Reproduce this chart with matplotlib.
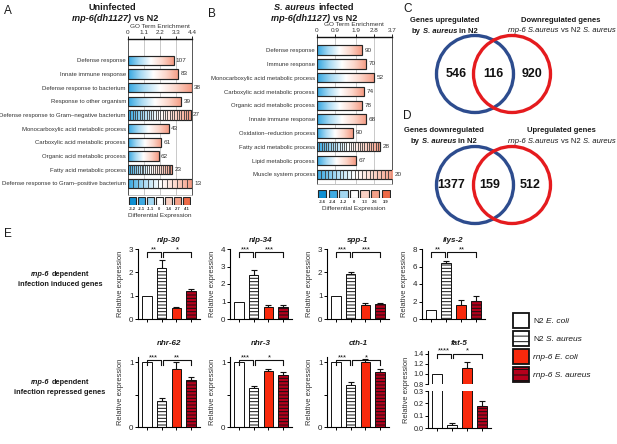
import numpy as np
import matplotlib
matplotlib.use('Agg')
import matplotlib.pyplot as plt
from matplotlib.colors import LinearSegmentedColormap
from matplotlib.patches import Rectangle, Circle

plt.rcParams['font.family'] = ['Liberation Sans', 'DejaVu Sans']
plt.rcParams['hatch.linewidth'] = 0.7
plt.rcParams['axes.unicode_minus'] = False

W, H = 617, 444
fig = plt.figure(figsize=(W / 100, H / 100), dpi=100)
fig.patch.set_facecolor('white')

# ---------------- data ----------------
a_terms = ['Defense response', 'Innate immune response', 'Defense response to bacterium',
           'Response to other organism', 'Defense response to Gram–negative bacterium',
           'Monocarboxylic acid metabolic process', 'Carboxylic acid metabolic process',
           'Organic acid metabolic process', 'Fatty acid metabolic process',
           'Defense response to Gram–positive bacterium']
a_enrich = [3.14, 3.47, 4.37, 3.67, 4.30, 2.79, 2.28, 2.12, 3.05, 4.40]
a_counts = [107, 83, 38, 39, 27, 43, 61, 62, 23, 13]
a_cells = [False, False, False, False, True, False, False, False, True, True]
a_ticks = [0, 1.1, 2.2, 3.3, 4.4]
a_de_labels = ['-3.2', '-2.1', '-1.1', '0', '1.4', '2.7', '4.1']

b_terms = ['Defense response', 'Immune response', 'Monocarboxylic acid metabolic process',
           'Carboxylic acid metabolic process', 'Organic acid metabolic process',
           'Innate immune response', 'Oxidation–reduction process',
           'Fatty acid metabolic process', 'Lipid metabolic process', 'Muscle system process']
b_enrich = [2.22, 2.42, 2.83, 2.30, 2.24, 2.42, 1.76, 3.12, 1.92, 3.70]
b_counts = [90, 70, 52, 74, 78, 68, 90, 28, 67, 20]
b_cells = [False, False, False, False, False, False, False, True, False, True]
b_ticks = [0, 0.9, 1.9, 2.8, 3.7]
b_de_labels = ['-3.6', '-2.4', '-1.2', '0', '1.3', '2.6', '3.9']

de_colors = ['#0e8fd2', '#3eaae2', '#a3d7f1', '#ffffff', '#f9d0c3', '#f4a088', '#ee6a47']

venn_c = [546, 116, 920]
venn_d = [1377, 159, 512]

groups = ['N2 E. coli', 'N2 S. aureus', 'rnp-6 E. coli', 'rnp-6 S. aureus']

nlp30 = [1.0, 2.2, 0.47, 1.18]
nlp30_err = [0, 0.32, 0.03, 0.12]
nlp34 = [1.0, 2.5, 0.7, 0.7]
nlp34_err = [0, 0.3, 0.12, 0.08]
spp1 = [1.0, 1.92, 0.62, 0.65]
spp1_err = [0, 0.08, 0.08, 0.05]
ilys2 = [1.0, 6.4, 1.6, 2.1]
ilys2_err = [0, 0.2, 0.55, 0.5]
nhr62 = [1.0, 0.4, 0.9, 0.73]
nhr62_err = [0, 0.05, 0.1, 0.04]
nhr3 = [1.0, 0.6, 0.86, 0.8]
nhr3_err = [0, 0.04, 0.03, 0.05]
cth1 = [1.0, 0.65, 1.0, 0.85]
cth1_err = [0, 0.04, 0.05, 0.04]
fat5 = [1.0, 0.025, 1.12, 0.175]
fat5_err = [0, 0.015, 0.12, 0.04]

stars_nlp30 = ['**', '*']
stars_nlp34 = ['***', '***']
stars_spp1 = ['***', '***']
stars_ilys2 = ['**', '**']
stars_nhr62 = ['***', '**']
stars_nhr3 = ['***', '*']
stars_cth1 = ['***', '*']
stars_fat5 = ['****', '*']

# ---------------- helpers ----------------
TXT = '#1a1a1a'


def px_axes(x0, y0, x1, y1, **kw):
    return fig.add_axes([x0 / W, 1 - y1 / H, (x1 - x0) / W, (y1 - y0) / H], **kw)


def rich(x, y, pieces, size, ha='center', color=TXT):
    """Draw mixed-style text; y is the vertical centre of capitals in pixels."""
    r = fig.canvas.get_renderer()
    em = size * 100 / 72
    yb = y + 0.36 * em
    items, total = [], 0
    for s, kw in pieces:
        lead = len(s) - len(s.lstrip(' '))
        trail = len(s) - len(s.rstrip(' '))
        t = fig.text(0, 0, s.strip(' '), fontsize=size, va='baseline', ha='left', color=color, **kw)
        w = t.get_window_extent(r).width
        l, tr = lead * 0.278 * em, trail * 0.278 * em
        items.append((t, l, w, tr))
        total += l + w + tr
    cx = x - total / 2 if ha == 'center' else x
    for t, l, w, tr in items:
        cx += l
        t.set_position((cx / W, 1 - yb / H))
        cx += w + tr


def ftext(x, y, s, size, **kw):
    kw.setdefault('color', TXT)
    fig.text(x / W, 1 - y / H, s, fontsize=size, **kw)


BI = dict(fontweight='bold', fontstyle='italic')
B = dict(fontweight='bold')
I = dict(fontstyle='italic')
N = dict()

go_cmap = LinearSegmentedColormap.from_list(
    'go', ['#32a5e0', '#a8daf3', '#ffffff', '#fcd6ca', '#f59a82'])
grad = np.linspace(0, 1, 256).reshape(1, -1)


def go_panel(box, terms, enrich, counts, cells, ticks, pad_top, pad_bot):
    ax = px_axes(*box)
    n = len(terms)
    y = np.arange(n)
    h = 0.68
    bars = ax.barh(y, enrich, height=h, facecolor='none', edgecolor='#262626',
                   linewidth=0.85, zorder=4)
    for i, (b, v) in enumerate(zip(bars, enrich)):
        im = ax.imshow(grad, extent=(0, v, i + h / 2, i - h / 2), cmap=go_cmap,
                       aspect='auto', zorder=3, interpolation='bilinear')
        im.set_clip_path(b)
        if cells[i]:
            xs = np.linspace(0, v, counts[i] + 1)[1:-1]
            ax.vlines(xs, i - h / 2, i + h / 2, colors='#3a3a3a', lw=0.6, zorder=4)
        ax.text(v + ticks[-1] * 0.035, i, str(counts[i]), va='center', ha='left',
                fontsize=4.6, color='#333333', clip_on=False)
    ax.set_xlim(0, ticks[-1])
    ax.set_ylim(n - 1 + pad_bot, -pad_top)
    ax.set_yticks(y)
    ax.set_yticklabels(terms, fontsize=4.3, color='#333333')
    ax.tick_params(axis='y', length=0, pad=1.5)
    ax.xaxis.tick_top()
    ax.set_xticks(ticks)
    ax.set_xticklabels([f'{t:g}' for t in ticks], fontsize=4.6, color='#333333')
    ax.tick_params(axis='x', length=2, width=0.6, pad=0.8)
    ax.grid(axis='x', color='#b4b4b4', lw=0.5)
    ax.set_axisbelow(True)
    ax.spines['top'].set_color('#111111')
    ax.spines['top'].set_linewidth(1.0)
    for s in ('left', 'right'):
        ax.spines[s].set_color('#555555')
        ax.spines[s].set_linewidth(0.7)
    ax.spines['bottom'].set_color('#b4b4b4')
    ax.spines['bottom'].set_linewidth(0.6)
    return ax


def de_bar(box, labels):
    ax = px_axes(*box)
    ax.bar(np.arange(len(labels)), np.ones(len(labels)), width=0.78, color=de_colors,
           edgecolor='#262626', lw=0.8)
    ax.set_xlim(-0.5, len(labels) - 0.5)
    ax.set_ylim(0, 1)
    ax.set_xticks(np.arange(len(labels)))
    ax.set_xticklabels(labels, fontsize=3.0, fontweight='bold', color='#333333')
    ax.tick_params(length=0, pad=1.2)
    ax.set_yticks([])
    for s in ax.spines.values():
        s.set_visible(False)
    ax.set_xlabel('Differential Expression', fontsize=4.6, labelpad=1.8, color='#333333')
    ax.patch.set_visible(False)


# ---------------- panel A ----------------
ftext(4, 11, 'A', 8.5, va='center')
ftext(112, 7, 'Uninfected', 6.6, ha='center', va='center', fontweight='bold')
rich(115, 18, [('rnp-6(dh1127)', BI), (' vs N2', B)], 6.6)
ftext(160, 27, 'GO Term Enrichment', 4.6, ha='center', va='center', color='#333333')
go_panel((128, 39, 192, 195), a_terms, a_enrich, a_counts, a_cells, a_ticks, 1.55, 0.85)
de_bar((128, 197, 191, 205), a_de_labels)

# ---------------- panel B ----------------
ftext(208, 14, 'B', 8.5, va='center')
rich(314, 7, [('S. aureus', BI), (' infected', B)], 6.6)
rich(314, 18, [('rnp-6(dh1127)', BI), (' vs N2', B)], 6.6)
ftext(354, 25, 'GO Term Enrichment', 4.6, ha='center', va='center', color='#333333')
go_panel((317, 37, 392, 184), b_terms, b_enrich, b_counts, b_cells, b_ticks, 0.95, 0.7)
de_bar((317, 190, 391, 198), b_de_labels)

# ---------------- Venn C / D ----------------
ov = fig.add_axes([0, 0, 1, 1], zorder=10)
ov.set_xlim(0, W)
ov.set_ylim(H, 0)
ov.axis('off')

BLUE = '#2d4c8e'
RED = '#e51b1e'

ftext(403, 9, 'C', 8.5, va='center')
ftext(445, 21, 'Genes upregulated', 5.5, ha='center', va='center', fontweight='bold')
rich(445, 30, [('by ', B), ('S. aureus', BI), (' in N2', B)], 5.5)
ftext(561, 20, 'Downregulated genes', 5.5, ha='center', va='center', fontweight='bold')
rich(562, 29, [('rnp-6 S.aureus', I), (' vs N2 ', N), ('S. aureus', I)], 5.5)

ftext(403, 116, 'D', 8.5, va='center')
ftext(444, 131, 'Genes downregulated', 5.5, ha='center', va='center', fontweight='bold')
rich(444, 140, [('by ', B), ('S. aureus', BI), (' in N2', B)], 5.5)
ftext(561, 131, 'Upregulated genes', 5.5, ha='center', va='center', fontweight='bold')
rich(562, 140, [('rnp-6 S.aureus', I), (' vs N2 ', N), ('S. aureus', I)], 5.5)

for cy, vals, xs in [(74, venn_c, (456, 493, 532)), (185, venn_d, (451, 490, 530))]:
    ov.add_patch(Circle((475, cy), 38.5, fill=False, ec=BLUE, lw=2.4))
    ov.add_patch(Circle((512, cy), 38.5, fill=False, ec=RED, lw=2.4))
    for x, v in zip(xs, vals):
        ov.text(x, cy, str(v), ha='center', va='center', fontsize=9, fontweight='bold',
                color='#111111')

# ---------------- panel E ----------------
bar_faces = ['#ffffff', '#ffffff', '#f8290c', '#b5001c']
bar_hatches = ['', '-----', '', '-----']


def draw_bars(ax, vals, errs):
    x = np.arange(len(vals))
    bars = ax.bar(x, vals, width=0.64, color=bar_faces, edgecolor='#111111',
                  linewidth=0.7, zorder=2)
    for b, hch in zip(bars, bar_hatches):
        b.set_hatch(hch)
    v = np.array(vals)
    e = np.array(errs)
    m = e > 0
    ax.errorbar(x[m], v[m], yerr=[np.zeros(m.sum()), e[m]], fmt='none', ecolor='#111111',
                elinewidth=0.8, capsize=2.2, capthick=0.8, zorder=1)
    ax.set_xlim(-0.6, 3.6)


def style_axes(ax, yticks, ylabels, bottom=True, size=5.8):
    for s in ('top', 'right'):
        ax.spines[s].set_visible(False)
    ax.spines['left'].set_linewidth(0.8)
    ax.spines['bottom'].set_linewidth(0.8)
    ax.spines['bottom'].set_visible(bottom)
    ax.set_yticks(yticks)
    ax.set_yticklabels(ylabels, fontsize=size, color='#222222')
    ax.tick_params(axis='y', length=2, width=0.7, pad=1.2)
    if bottom:
        ax.set_xticks(np.arange(4))
        ax.tick_params(axis='x', length=2, width=0.7, labelbottom=False)
    else:
        ax.set_xticks([])


def bracket(ax, stars, yf, drop_px=4.5):
    tr = ax.get_xaxis_transform()
    hpx = ax.get_position().height * H
    d = drop_px / hpx
    for (a, b), s in zip([(0, 0.93), (1.07, 3)], stars):
        ax.plot([a, a, b, b], [yf - d, yf, yf, yf - d], color='#111111', lw=0.8,
                transform=tr, clip_on=False)
        ax.text((a + b) / 2, yf + 1.2 / hpx, s, ha='center', va='baseline', fontsize=5.5,
                transform=tr, clip_on=False, color='#111111')


def expr_panel(box, vals, errs, ymax, yticks, ylabels, title, stars, title_y):
    ax = px_axes(*box)
    draw_bars(ax, vals, errs)
    ax.set_ylim(0, ymax)
    style_axes(ax, yticks, ylabels)
    ax.set_ylabel('Relative expression', fontsize=5.4, labelpad=3.5, color='#333333')
    bracket(ax, stars, 0.955)
    ftext((box[0] + box[2]) / 2, title_y, title, 5.8, ha='center', va='center', **BI)
    return ax


ftext(4, 234, 'E', 8.5, va='center')
rich(60, 273, [('rnp-6', BI), (' dependent', B)], 5.3)
ftext(60, 284, 'infection induced genes', 5.3, ha='center', va='center', fontweight='bold')
rich(60, 381, [('rnp-6', BI), (' dependent', B)], 5.3)
ftext(60, 392, 'infection repressed genes', 5.3, ha='center', va='center', fontweight='bold')

cols = [(138, 200), (230, 292), (327, 389), (422, 485)]
r1 = (249, 319)
r2 = (357, 427)
t1, t2 = 240, 343

expr_panel((cols[0][0], r1[0], cols[0][1], r1[1]), nlp30, nlp30_err, 3, [0, 1, 2, 3],
           ['0', '1', '2', '3'], 'nlp-30', stars_nlp30, t1)
expr_panel((cols[1][0], r1[0], cols[1][1], r1[1]), nlp34, nlp34_err, 4, [0, 1, 2, 3, 4],
           ['0', '1', '2', '3', '4'], 'nlp-34', stars_nlp34, t1)
expr_panel((cols[2][0], r1[0], cols[2][1], r1[1]), spp1, spp1_err, 3, [0, 1, 2, 3],
           ['0', '1', '2', '3'], 'spp-1', stars_spp1, t1)
expr_panel((cols[3][0], r1[0], cols[3][1], r1[1]), ilys2, ilys2_err, 8, [0, 2, 4, 6, 8],
           ['0', '2', '4', '6', '8'], 'ilys-2', stars_ilys2, t1)

expr_panel((cols[0][0], r2[0], cols[0][1], r2[1]), nhr62, nhr62_err, 1.08, [0, 0.5, 1],
           ['0', '', '1'], 'nhr-62', stars_nhr62, t2)
expr_panel((cols[1][0], r2[0], cols[1][1], r2[1]), nhr3, nhr3_err, 1.08, [0, 0.5, 1],
           ['0', '', '1'], 'nhr-3', stars_nhr3, t2)
expr_panel((cols[2][0], r2[0], cols[2][1], r2[1]), cth1, cth1_err, 1.08, [0, 0.5, 1],
           ['0', '', '1'], 'cth-1', stars_cth1, t2)

# fat-5 with broken axis
fx0, fx1 = 428, 491
up = px_axes(fx0, 351, fx1, 384)
lo = px_axes(fx0, 391, fx1, 428)
draw_bars(up, fat5, fat5_err)
draw_bars(lo, fat5, fat5_err)
up.set_ylim(0.8, 1.45)
lo.set_ylim(0, 0.3)
style_axes(up, [0.8, 1.0, 1.2, 1.4], ['0.8', '1.0', '1.2', '1.4'], bottom=False, size=5.2)
style_axes(lo, [0, 0.1, 0.2, 0.3], ['0.0', '0.1', '0.2', '0.3'], size=5.2)
bracket(up, stars_fat5, 0.91)
ftext((fx0 + fx1) / 2, t2, 'fat-5', 5.8, ha='center', va='center', **BI)
ftext(406, 390, 'Relative expression', 5.4, ha='center', va='center', rotation=90,
      color='#333333')

# legend
leg_y = [320, 338, 356, 374]
leg_labels = [[('N2 ', N), ('E. coli', I)], [('N2 ', N), ('S. aureus', I)],
              [('rnp-6 E. coli', I)], [('rnp-6 S. aureus', I)]]
for yc, face, hch, lab in zip(leg_y, bar_faces, bar_hatches, leg_labels):
    ov.add_patch(Rectangle((513, yc - 7.5), 16, 15, facecolor=face, edgecolor='#111111',
                           lw=1.3, hatch=hch.replace('-----', '---')))
    rich(533, yc, lab, 6.0, ha='left')

fig.savefig('out.png', dpi=100, facecolor='white')
